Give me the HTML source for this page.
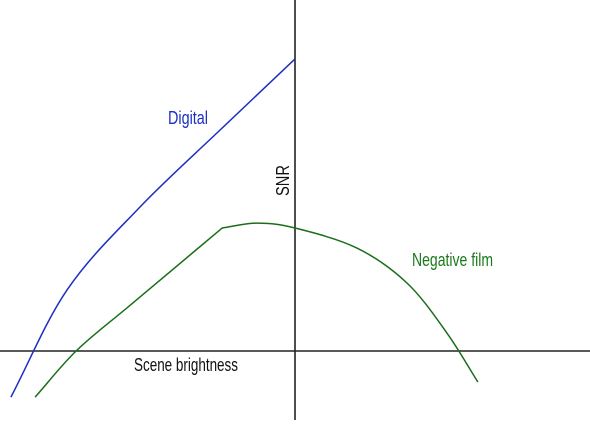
<!DOCTYPE html>
<html><head><meta charset="utf-8"><style>
body{margin:0;background:#fff}
svg text{font-family:"Liberation Sans Narrow","Liberation Sans",sans-serif;font-size:18px}
</style></head><body>
<svg id="c" width="590" height="420" viewBox="0 0 590 420">
<line x1="0" y1="351" x2="590" y2="351" stroke="#222" stroke-width="1.6"/>
<line x1="295" y1="0" x2="295" y2="420" stroke="#222" stroke-width="1.6"/>
<text x="134" y="371" fill="#111" textLength="104" lengthAdjust="spacingAndGlyphs">Scene brightness</text>
<text transform="translate(289,196) rotate(-90)" fill="#111" textLength="31" lengthAdjust="spacingAndGlyphs">SNR</text>
<text x="168" y="124" fill="#1d2fc0" textLength="40" lengthAdjust="spacingAndGlyphs">Digital</text>
<text x="412" y="266" fill="#1a7a1a" textLength="81" lengthAdjust="spacingAndGlyphs">Negative film</text>
</svg>
<script>
const digitalX=[-9.63,-7.73,-5.25,-2.54,0];
const digitalY=[-1.59,2.10,4.97,7.62,10.07];
const filmX=[-8.81,-7.39,-5.49,-2.47,-1.29,0,2.10,3.80,5.15,6.20];
const filmY=[-1.59,0.03,1.66,4.24,4.41,4.24,3.55,2.34,0.62,-1.07];
const filmCorners=[3];
const sx=x=>295+x*29.5, sy=y=>351-y*29;
const svg=document.getElementById('c');
function spline(xs,ys,corners){
  const P=xs.map((x,i)=>[sx(x),sy(ys[i])]),n=P.length;
  const tin=[],tout=[];
  for(let i=0;i<n;i++){
    const a=P[i-1]||P[i],b=P[i+1]||P[i];
    let t;
    if(corners.includes(i)){
      tin[i]=[P[i][0]-a[0],P[i][1]-a[1]];
      tout[i]=[b[0]-P[i][0],b[1]-P[i][1]];
    }else{
      t=[(b[0]-a[0])/(i==0||i==n-1?1:2),(b[1]-a[1])/(i==0||i==n-1?1:2)];
      tin[i]=t;tout[i]=t;
    }
  }
  let d=`M${P[0][0]},${P[0][1]}`;
  for(let i=0;i<n-1;i++){
    const c1=[P[i][0]+tout[i][0]/3,P[i][1]+tout[i][1]/3];
    const c2=[P[i+1][0]-tin[i+1][0]/3,P[i+1][1]-tin[i+1][1]/3];
    d+=`C${c1[0]},${c1[1]} ${c2[0]},${c2[1]} ${P[i+1][0]},${P[i+1][1]}`;
  }
  return d;
}
function add(xs,ys,corners,col,name){
  const el=document.createElementNS('http://www.w3.org/2000/svg','path');
  el.setAttribute('d',spline(xs,ys,corners));
  el.setAttribute('fill','none');
  el.setAttribute('stroke',col);
  el.setAttribute('stroke-width','1.5');
  
  
  svg.appendChild(el);
}
add(digitalX,digitalY,[],'#1d2fc0','digital-curve');
add(filmX,filmY,filmCorners,'#1a6e1a','film-curve');
</script>
</body></html>
